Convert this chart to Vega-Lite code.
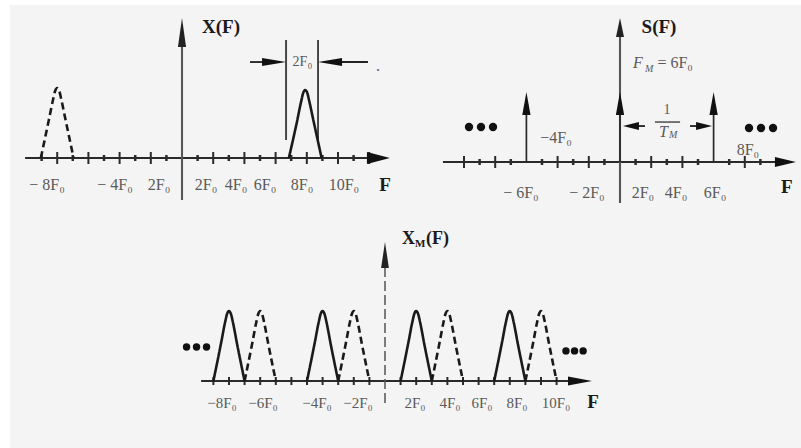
{
"$schema": "https://vega.github.io/schema/vega-lite/v6.json",
"padding": {"left": 10, "top": 5, "right": 0, "bottom": 0},
"background": "white",
"spacing": 0,
"config": {"view": {"stroke": null, "fill": "#f4f4f4"}, "point": {"opacity": 1}, "tick": {"opacity": 1}, "text": {"font": "Liberation Serif", "baseline": "middle"}},
"datasets": {
"p1_lines": [
{"f":-10.06,"a":0,"f2":13.0,"a2":0,"kind":"axis"},
{"f":0,"a":-0.6,"f2":0,"a2":1.83,"kind":"vaxis"},
{"f":6.67,"a":0.257,"f2":6.67,"a2":1.686,"kind":"bracket"},
{"f":8.72,"a":0.257,"f2":8.72,"a2":1.686,"kind":"bracket"},
{"f":4.36,"a":1.371,"f2":5.9,"a2":1.371,"kind":"arrow"},
{"f":9.5,"a":1.371,"f2":11.92,"a2":1.371,"kind":"arrow"}
],
"p1_ticks": [{"f":-9,"a":0},{"f":-8,"a":0},{"f":-7,"a":0},{"f":-6,"a":0},{"f":-5,"a":0},{"f":-4,"a":0},{"f":-3,"a":0},{"f":-2,"a":0},{"f":-1,"a":0},{"f":1,"a":0},{"f":2,"a":0},{"f":3,"a":0},{"f":4,"a":0},{"f":5,"a":0},{"f":6,"a":0},{"f":7,"a":0},{"f":8,"a":0},{"f":9,"a":0},{"f":10,"a":0},{"f":11,"a":0},{"f":12,"a":0}],
"p1_peaks": [
{"f":-9.05,"a":0,"id":"d1","style":"dashed"},{"f":-8.53,"a":0.55,"id":"d1","style":"dashed"},{"f":-8.26,"a":0.84,"id":"d1","style":"dashed"},{"f":-8.13,"a":0.96,"id":"d1","style":"dashed"},{"f":-8,"a":1,"id":"d1","style":"dashed"},{"f":-7.87,"a":0.96,"id":"d1","style":"dashed"},{"f":-7.74,"a":0.84,"id":"d1","style":"dashed"},{"f":-7.47,"a":0.55,"id":"d1","style":"dashed"},{"f":-6.95,"a":0,"id":"d1","style":"dashed"},
{"f":6.85,"a":0,"id":"s1","style":"solid"},{"f":7.38,"a":0.53,"id":"s1","style":"solid"},{"f":7.64,"a":0.81,"id":"s1","style":"solid"},{"f":7.77,"a":0.93,"id":"s1","style":"solid"},{"f":7.9,"a":0.97,"id":"s1","style":"solid"},{"f":8.03,"a":0.93,"id":"s1","style":"solid"},{"f":8.16,"a":0.81,"id":"s1","style":"solid"},{"f":8.43,"a":0.53,"id":"s1","style":"solid"},{"f":8.95,"a":0,"id":"s1","style":"solid"}
],
"p1_arrows": [
{"f":0,"a":2.0,"id":"vaxis"},
{"f":13.33,"a":0,"id":"haxis"},
{"f":6.67,"a":1.371,"id":"toR"},
{"f":8.72,"a":1.371,"id":"toL"}
],
"p1_text": [
{"f":-8.65,"a":-0.386,"t":"− 8F₀","role":"lab"},
{"f":-4.29,"a":-0.386,"t":"− 4F₀","role":"lab"},
{"f":-1.47,"a":-0.386,"t":"2F₀","role":"lab"},
{"f":1.54,"a":-0.386,"t":"2F₀","role":"lab"},
{"f":3.46,"a":-0.386,"t":"4F₀","role":"lab"},
{"f":5.32,"a":-0.386,"t":"6F₀","role":"lab"},
{"f":7.69,"a":-0.386,"t":"8F₀","role":"lab"},
{"f":10.38,"a":-0.386,"t":"10F₀","role":"lab"},
{"f":12.56,"a":1.32,"t":".","role":"lab"},
{"f":7.72,"a":1.371,"t":"2F₀","role":"small"},
{"f":2.5,"a":1.871,"t":"X(F)","role":"title"},
{"f":13.01,"a":-0.386,"t":"F","role":"title"}
],
"p2_lines": [
{"f":-11.35,"a":0,"f2":10.6,"a2":0,"kind":"axis"},
{"f":0,"a":-0.586,"f2":0,"a2":1.9,"kind":"vaxis"},
{"f":-6,"a":0,"f2":-6,"a2":0.75,"kind":"imp"},
{"f":0,"a":0,"f2":0,"a2":0.75,"kind":"imp"},
{"f":6,"a":0,"f2":6,"a2":0.75,"kind":"imp"},
{"f":0.6,"a":0.514,"f2":1.6,"a2":0.514,"kind":"arrow"},
{"f":4.49,"a":0.514,"f2":5.5,"a2":0.514,"kind":"arrow"},
{"f":2.24,"a":0.571,"f2":3.85,"a2":0.571,"kind":"frac"}
],
"p2_ticks": [{"f":-10,"a":0},{"f":-9,"a":0},{"f":-8,"a":0},{"f":-7,"a":0},{"f":-5,"a":0},{"f":-4,"a":0},{"f":-3,"a":0},{"f":-2,"a":0},{"f":-1,"a":0},{"f":1,"a":0},{"f":2,"a":0},{"f":3,"a":0},{"f":4,"a":0},{"f":5,"a":0},{"f":7,"a":0},{"f":8,"a":0},{"f":9,"a":0}],
"p2_arrows": [
{"f":0,"a":2.057,"id":"vaxis"},
{"f":-6,"a":1.0,"id":"imp"},
{"f":0,"a":1.0,"id":"imp"},
{"f":6,"a":1.0,"id":"imp"},
{"f":11.28,"a":0,"id":"haxis"},
{"f":0.19,"a":0.514,"id":"toL"},
{"f":5.9,"a":0.514,"id":"toR"}
],
"p2_dots": [{"f":-9.68,"a":0.5},{"f":-8.91,"a":0.5},{"f":-8.14,"a":0.5},{"f":8.27,"a":0.486},{"f":9.04,"a":0.486},{"f":9.81,"a":0.486}],
"p2_text": [
{"f":-6.35,"a":-0.443,"t":"− 6F₀","role":"lab"},
{"f":-2.12,"a":-0.443,"t":"− 2F₀","role":"lab"},
{"f":1.47,"a":-0.443,"t":"2F₀","role":"lab"},
{"f":3.59,"a":-0.443,"t":"4F₀","role":"lab"},
{"f":6.09,"a":-0.443,"t":"6F₀","role":"lab"},
{"f":-4.1,"a":0.343,"t":"−4F₀","role":"lab"},
{"f":8.2,"a":0.171,"t":"8F₀","role":"lab"},
{"f":3.01,"a":0.743,"t":"1","role":"small"},
{"f":10.7,"a":-0.357,"t":"F","role":"title"},
{"f":2.5,"a":1.929,"t":"S(F)","role":"title"},
{"f":0.83,"a":1.414,"t":"F","role":"ital"},
{"f":1.6,"a":1.33,"t":"M","role":"sub"},
{"f":2.4,"a":1.414,"t":"= 6F₀","role":"left"},
{"f":2.5,"a":0.429,"t":"T","role":"ital"},
{"f":3.14,"a":0.386,"t":"M","role":"sub"}
],
"p3_lines": [
{"f":-11.79,"a":0,"f2":12.5,"a2":0,"kind":"axis"}
],
"p3_vaxis": [{"f":0,"a":-0.314,"a2":1.62}],
"p3_ticks": [{"f":-11,"a":0},{"f":-10,"a":0},{"f":-9,"a":0},{"f":-8,"a":0},{"f":-7,"a":0},{"f":-6,"a":0},{"f":-5,"a":0},{"f":-4,"a":0},{"f":-3,"a":0},{"f":-2,"a":0},{"f":-1,"a":0},{"f":1,"a":0},{"f":2,"a":0},{"f":3,"a":0},{"f":4,"a":0},{"f":5,"a":0},{"f":6,"a":0},{"f":7,"a":0},{"f":8,"a":0},{"f":9,"a":0},{"f":10,"a":0},{"f":11,"a":0}],
"p3_peaks": [
{"f":-11,"a":0,"id":"s1","style":"solid"},{"f":-10.5,"a":0.55,"id":"s1","style":"solid"},{"f":-10.25,"a":0.84,"id":"s1","style":"solid"},{"f":-10.12,"a":0.96,"id":"s1","style":"solid"},{"f":-10,"a":1,"id":"s1","style":"solid"},{"f":-9.88,"a":0.96,"id":"s1","style":"solid"},{"f":-9.75,"a":0.84,"id":"s1","style":"solid"},{"f":-9.5,"a":0.55,"id":"s1","style":"solid"},{"f":-9,"a":0,"id":"s1","style":"solid"},
{"f":-5,"a":0,"id":"s2","style":"solid"},{"f":-4.5,"a":0.55,"id":"s2","style":"solid"},{"f":-4.25,"a":0.84,"id":"s2","style":"solid"},{"f":-4.12,"a":0.96,"id":"s2","style":"solid"},{"f":-4,"a":1,"id":"s2","style":"solid"},{"f":-3.88,"a":0.96,"id":"s2","style":"solid"},{"f":-3.75,"a":0.84,"id":"s2","style":"solid"},{"f":-3.5,"a":0.55,"id":"s2","style":"solid"},{"f":-3,"a":0,"id":"s2","style":"solid"},
{"f":1,"a":0,"id":"s3","style":"solid"},{"f":1.5,"a":0.55,"id":"s3","style":"solid"},{"f":1.75,"a":0.84,"id":"s3","style":"solid"},{"f":1.88,"a":0.96,"id":"s3","style":"solid"},{"f":2,"a":1,"id":"s3","style":"solid"},{"f":2.12,"a":0.96,"id":"s3","style":"solid"},{"f":2.25,"a":0.84,"id":"s3","style":"solid"},{"f":2.5,"a":0.55,"id":"s3","style":"solid"},{"f":3,"a":0,"id":"s3","style":"solid"},
{"f":7,"a":0,"id":"s4","style":"solid"},{"f":7.5,"a":0.55,"id":"s4","style":"solid"},{"f":7.75,"a":0.84,"id":"s4","style":"solid"},{"f":7.88,"a":0.96,"id":"s4","style":"solid"},{"f":8,"a":1,"id":"s4","style":"solid"},{"f":8.12,"a":0.96,"id":"s4","style":"solid"},{"f":8.25,"a":0.84,"id":"s4","style":"solid"},{"f":8.5,"a":0.55,"id":"s4","style":"solid"},{"f":9,"a":0,"id":"s4","style":"solid"},
{"f":-9,"a":0,"id":"d1","style":"dashed"},{"f":-8.5,"a":0.55,"id":"d1","style":"dashed"},{"f":-8.25,"a":0.84,"id":"d1","style":"dashed"},{"f":-8.12,"a":0.96,"id":"d1","style":"dashed"},{"f":-8,"a":1,"id":"d1","style":"dashed"},{"f":-7.88,"a":0.96,"id":"d1","style":"dashed"},{"f":-7.75,"a":0.84,"id":"d1","style":"dashed"},{"f":-7.5,"a":0.55,"id":"d1","style":"dashed"},{"f":-7,"a":0,"id":"d1","style":"dashed"},
{"f":-3,"a":0,"id":"d2","style":"dashed"},{"f":-2.5,"a":0.55,"id":"d2","style":"dashed"},{"f":-2.25,"a":0.84,"id":"d2","style":"dashed"},{"f":-2.12,"a":0.96,"id":"d2","style":"dashed"},{"f":-2,"a":1,"id":"d2","style":"dashed"},{"f":-1.88,"a":0.96,"id":"d2","style":"dashed"},{"f":-1.75,"a":0.84,"id":"d2","style":"dashed"},{"f":-1.5,"a":0.55,"id":"d2","style":"dashed"},{"f":-1,"a":0,"id":"d2","style":"dashed"},
{"f":3,"a":0,"id":"d3","style":"dashed"},{"f":3.5,"a":0.55,"id":"d3","style":"dashed"},{"f":3.75,"a":0.84,"id":"d3","style":"dashed"},{"f":3.88,"a":0.96,"id":"d3","style":"dashed"},{"f":4,"a":1,"id":"d3","style":"dashed"},{"f":4.12,"a":0.96,"id":"d3","style":"dashed"},{"f":4.25,"a":0.84,"id":"d3","style":"dashed"},{"f":4.5,"a":0.55,"id":"d3","style":"dashed"},{"f":5,"a":0,"id":"d3","style":"dashed"},
{"f":9,"a":0,"id":"d4","style":"dashed"},{"f":9.5,"a":0.55,"id":"d4","style":"dashed"},{"f":9.75,"a":0.84,"id":"d4","style":"dashed"},{"f":9.88,"a":0.96,"id":"d4","style":"dashed"},{"f":10,"a":1,"id":"d4","style":"dashed"},{"f":10.12,"a":0.96,"id":"d4","style":"dashed"},{"f":10.25,"a":0.84,"id":"d4","style":"dashed"},{"f":10.5,"a":0.55,"id":"d4","style":"dashed"},{"f":11,"a":0,"id":"d4","style":"dashed"}
],
"p3_arrows": [
{"f":0,"a":1.986,"id":"vaxis"},
{"f":13.27,"a":0,"id":"haxis"}
],
"p3_dots": [{"f":-12.72,"a":0.486},{"f":-12.08,"a":0.486},{"f":-11.44,"a":0.486},{"f":11.6,"a":0.43},{"f":12.15,"a":0.43},{"f":12.7,"a":0.43}],
"p3_text": [
{"f":-10.45,"a":-0.314,"t":"−8F₀","role":"lab"},
{"f":-7.82,"a":-0.314,"t":"−6F₀","role":"lab"},
{"f":-4.36,"a":-0.314,"t":"−4F₀","role":"lab"},
{"f":-1.73,"a":-0.314,"t":"−2F₀","role":"lab"},
{"f":1.92,"a":-0.314,"t":"2F₀","role":"lab"},
{"f":4.17,"a":-0.314,"t":"4F₀","role":"lab"},
{"f":6.22,"a":-0.314,"t":"6F₀","role":"lab"},
{"f":8.46,"a":-0.314,"t":"8F₀","role":"lab"},
{"f":10.96,"a":-0.314,"t":"10F₀","role":"lab"},
{"f":13.33,"a":-0.3,"t":"F","role":"title"},
{"f":1.09,"a":2.029,"t":"X","role":"tleft"},
{"f":1.92,"a":1.96,"t":"M","role":"tsub"},
{"f":2.63,"a":2.029,"t":"(F)","role":"tleft"}
]
},
"vconcat": [
{
"hconcat": [
{
"width": 390, "height": 210,
"encoding": {
"x": {"field": "f", "type": "quantitative", "scale": {"domain": [-11.026, 13.974], "nice": false, "zero": false}, "axis": null},
"y": {"field": "a", "type": "quantitative", "scale": {"domain": [-0.8143, 2.1857], "nice": false, "zero": false}, "axis": null}
},
"layer": [
{"data": {"name": "p1_lines"}, "mark": {"type": "rule"},
 "encoding": {"x2": {"field": "f2"}, "y2": {"field": "a2"},
  "color": {"field": "kind", "type": "nominal", "scale": {"domain": ["axis","vaxis","bracket","arrow"], "range": ["#2a2a2a","#555555","#444444","#222222"]}, "legend": null},
  "strokeWidth": {"field": "kind", "type": "ordinal", "scale": {"domain": ["axis","vaxis","bracket","arrow"], "range": [2.2,1.6,1.5,2]}, "legend": null}}},
{"data": {"name": "p1_ticks"}, "transform": [{"filter": "datum.f % 2 === 0"}], "mark": {"type": "tick", "orient": "vertical", "size": 12, "thickness": 2, "color": "#2a2a2a"}},
{"data": {"name": "p1_ticks"}, "transform": [{"filter": "datum.f % 2 !== 0"}], "mark": {"type": "tick", "orient": "vertical", "size": 6, "thickness": 2.5, "color": "#2a2a2a"}},
{"data": {"name": "p1_peaks"}, "mark": {"type": "line", "strokeWidth": 2.6, "color": "#1a1a1a", "interpolate": "monotone"},
 "encoding": {"detail": {"field": "id"}, "strokeDash": {"field": "style", "type": "nominal", "scale": {"domain": ["solid","dashed"], "range": [[1,0],[7,4]]}, "legend": null}}},
{"data": {"name": "p1_arrows"}, "transform": [{"filter": "datum.id === 'vaxis'"}], "mark": {"type": "point", "shape": "M0,0 L0.14,1 L-0.14,1 Z", "filled": true, "size": 3364, "color": "#222", "strokeWidth": 0}},
{"data": {"name": "p1_arrows"}, "transform": [{"filter": "datum.id === 'haxis'"}], "mark": {"type": "point", "shape": "M0,0 L-1,-0.26 L-1,0.26 Z", "filled": true, "size": 2116, "color": "#111", "strokeWidth": 0}},
{"data": {"name": "p1_arrows"}, "transform": [{"filter": "datum.id === 'toR'"}], "mark": {"type": "point", "shape": "M0,0 L-1,-0.17 L-1,0.17 Z", "filled": true, "size": 2304, "color": "#111", "strokeWidth": 0}},
{"data": {"name": "p1_arrows"}, "transform": [{"filter": "datum.id === 'toL'"}], "mark": {"type": "point", "shape": "M0,0 L1,-0.17 L1,0.17 Z", "filled": true, "size": 2304, "color": "#111", "strokeWidth": 0}},
{"data": {"name": "p1_text"}, "transform": [{"filter": "datum.role === 'lab'"}], "mark": {"type": "text", "fontSize": 16, "color": "#5a5a5a", "align": "center"}, "encoding": {"text": {"field": "t"}}},
{"data": {"name": "p1_text"}, "transform": [{"filter": "datum.role === 'small'"}], "mark": {"type": "text", "fontSize": 14, "color": "#5a5a5a", "align": "center"}, "encoding": {"text": {"field": "t"}}},
{"data": {"name": "p1_text"}, "transform": [{"filter": "datum.role === 'title'"}], "mark": {"type": "text", "fontSize": 19, "fontWeight": "bold", "color": "#1a1a1a", "align": "center"}, "encoding": {"text": {"field": "t"}}}
]
},
{
"width": 401, "height": 210,
"encoding": {
"x": {"field": "f", "type": "quantitative", "scale": {"domain": [-14.103, 11.603], "nice": false, "zero": false}, "axis": null},
"y": {"field": "a", "type": "quantitative", "scale": {"domain": [-0.757, 2.243], "nice": false, "zero": false}, "axis": null}
},
"layer": [
{"data": {"name": "p2_lines"}, "mark": {"type": "rule"},
 "encoding": {"x2": {"field": "f2"}, "y2": {"field": "a2"},
  "color": {"field": "kind", "type": "nominal", "scale": {"domain": ["axis","vaxis","imp","arrow","frac"], "range": ["#2a2a2a","#777777","#111111","#222222","#555555"]}, "legend": null},
  "strokeWidth": {"field": "kind", "type": "ordinal", "scale": {"domain": ["axis","vaxis","imp","arrow","frac"], "range": [2.2,1.3,3,2.5,1.2]}, "legend": null}}},
{"data": {"name": "p2_ticks"}, "transform": [{"filter": "datum.f % 2 === 0"}], "mark": {"type": "tick", "orient": "vertical", "size": 12, "thickness": 2, "color": "#2a2a2a"}},
{"data": {"name": "p2_ticks"}, "transform": [{"filter": "datum.f % 2 !== 0"}], "mark": {"type": "tick", "orient": "vertical", "size": 6, "thickness": 2.5, "color": "#2a2a2a"}},
{"data": {"name": "p2_arrows"}, "transform": [{"filter": "datum.id === 'vaxis'"}], "mark": {"type": "point", "shape": "M0,0 L0.21,1 L-0.21,1 Z", "filled": true, "size": 1444, "color": "#222", "strokeWidth": 0}},
{"data": {"name": "p2_arrows"}, "transform": [{"filter": "datum.id === 'imp'"}], "mark": {"type": "point", "shape": "M0,0 L0.18,1 L-0.18,1 Z", "filled": true, "size": 2116, "color": "#111", "strokeWidth": 0}},
{"data": {"name": "p2_arrows"}, "transform": [{"filter": "datum.id === 'haxis'"}], "mark": {"type": "point", "shape": "M0,0 L-1,-0.24 L-1,0.24 Z", "filled": true, "size": 1764, "color": "#111", "strokeWidth": 0}},
{"data": {"name": "p2_arrows"}, "transform": [{"filter": "datum.id === 'toR'"}], "mark": {"type": "point", "shape": "M0,0 L-1,-0.25 L-1,0.25 Z", "filled": true, "size": 1024, "color": "#111", "strokeWidth": 0}},
{"data": {"name": "p2_arrows"}, "transform": [{"filter": "datum.id === 'toL'"}], "mark": {"type": "point", "shape": "M0,0 L1,-0.25 L1,0.25 Z", "filled": true, "size": 1024, "color": "#111", "strokeWidth": 0}},
{"data": {"name": "p2_dots"}, "mark": {"type": "point", "shape": "circle", "filled": true, "size": 70, "color": "#111", "strokeWidth": 0}},
{"data": {"name": "p2_text"}, "transform": [{"filter": "datum.role === 'lab'"}], "mark": {"type": "text", "fontSize": 16, "color": "#5a5a5a", "align": "center"}, "encoding": {"text": {"field": "t"}}},
{"data": {"name": "p2_text"}, "transform": [{"filter": "datum.role === 'small'"}], "mark": {"type": "text", "fontSize": 14, "color": "#5a5a5a", "align": "center"}, "encoding": {"text": {"field": "t"}}},
{"data": {"name": "p2_text"}, "transform": [{"filter": "datum.role === 'left'"}], "mark": {"type": "text", "fontSize": 16, "color": "#5a5a5a", "align": "left"}, "encoding": {"text": {"field": "t"}}},
{"data": {"name": "p2_text"}, "transform": [{"filter": "datum.role === 'ital'"}], "mark": {"type": "text", "fontSize": 16, "fontStyle": "italic", "color": "#5a5a5a", "align": "left"}, "encoding": {"text": {"field": "t"}}},
{"data": {"name": "p2_text"}, "transform": [{"filter": "datum.role === 'sub'"}], "mark": {"type": "text", "fontSize": 10, "fontStyle": "italic", "color": "#5a5a5a", "align": "left"}, "encoding": {"text": {"field": "t"}}},
{"data": {"name": "p2_text"}, "transform": [{"filter": "datum.role === 'title'"}], "mark": {"type": "text", "fontSize": 19, "fontWeight": "bold", "color": "#1a1a1a", "align": "center"}, "encoding": {"text": {"field": "t"}}}
]
}
],
"spacing": 0,
"bounds": "flush"
},
{
"width": 791, "height": 233,
"encoding": {
"x": {"field": "f", "type": "quantitative", "scale": {"domain": [-24.038, 26.667], "nice": false, "zero": false}, "axis": null},
"y": {"field": "a", "type": "quantitative", "scale": {"domain": [-0.957, 2.371], "nice": false, "zero": false}, "axis": null}
},
"layer": [
{"data": {"name": "p3_lines"}, "mark": {"type": "rule", "color": "#2a2a2a", "strokeWidth": 2.2},
 "encoding": {"x2": {"field": "f2"}, "y2": {"field": "a2"}}},
{"data": {"name": "p3_vaxis"}, "mark": {"type": "rule", "color": "#555", "strokeWidth": 1.5, "strokeDash": [10, 4]},
 "encoding": {"y2": {"field": "a2"}}},
{"data": {"name": "p3_ticks"}, "mark": {"type": "tick", "orient": "vertical", "size": 8, "thickness": 2, "color": "#2a2a2a"}},
{"data": {"name": "p3_peaks"}, "mark": {"type": "line", "strokeWidth": 2.6, "color": "#1a1a1a", "interpolate": "monotone"},
 "encoding": {"detail": {"field": "id"}, "strokeDash": {"field": "style", "type": "nominal", "scale": {"domain": ["solid","dashed"], "range": [[1,0],[7,4]]}, "legend": null}}},
{"data": {"name": "p3_arrows"}, "transform": [{"filter": "datum.id === 'vaxis'"}], "mark": {"type": "point", "shape": "M0,0 L0.15,1 L-0.15,1 Z", "filled": true, "size": 2704, "color": "#222", "strokeWidth": 0}},
{"data": {"name": "p3_arrows"}, "transform": [{"filter": "datum.id === 'haxis'"}], "mark": {"type": "point", "shape": "M0,0 L-1,-0.19 L-1,0.19 Z", "filled": true, "size": 2304, "color": "#111", "strokeWidth": 0}},
{"data": {"name": "p3_dots"}, "mark": {"type": "point", "shape": "circle", "filled": true, "size": 55, "color": "#111", "strokeWidth": 0}},
{"data": {"name": "p3_text"}, "transform": [{"filter": "datum.role === 'lab'"}], "mark": {"type": "text", "fontSize": 15, "color": "#5a5a5a", "align": "center"}, "encoding": {"text": {"field": "t"}}},
{"data": {"name": "p3_text"}, "transform": [{"filter": "datum.role === 'title'"}], "mark": {"type": "text", "fontSize": 19, "fontWeight": "bold", "color": "#1a1a1a", "align": "center"}, "encoding": {"text": {"field": "t"}}},
{"data": {"name": "p3_text"}, "transform": [{"filter": "datum.role === 'tleft'"}], "mark": {"type": "text", "fontSize": 18, "fontWeight": "bold", "color": "#1a1a1a", "align": "left"}, "encoding": {"text": {"field": "t"}}},
{"data": {"name": "p3_text"}, "transform": [{"filter": "datum.role === 'tsub'"}], "mark": {"type": "text", "fontSize": 11, "fontWeight": "bold", "color": "#1a1a1a", "align": "left"}, "encoding": {"text": {"field": "t"}}}
]
}
]
}
